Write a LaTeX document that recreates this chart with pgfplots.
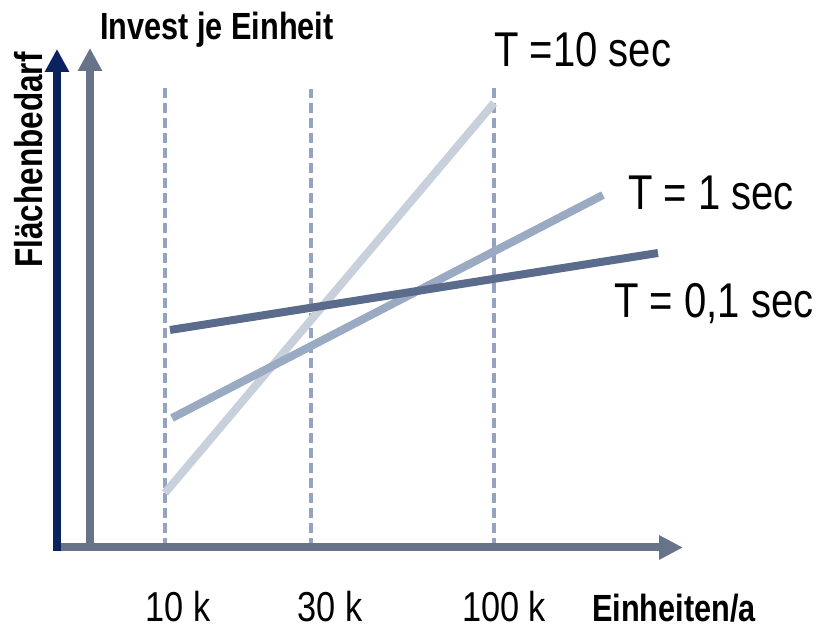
\documentclass[border=0pt]{standalone}
\usepackage{fontspec}
\setmainfont{Liberation Sans}[FakeStretch=0.82]
\newfontfamily\bcond{Liberation Sans Bold}[FakeStretch=0.81]
\usepackage{pgfplots}
\pgfplotsset{compat=1.18}
\usetikzlibrary{arrows.meta}
\definecolor{navyc}{HTML}{0A2260}
\definecolor{axisc}{HTML}{667388}
\definecolor{dashc}{HTML}{94A4C0}
\definecolor{tten}{HTML}{C8D0DC}
\definecolor{tone}{HTML}{9AAAC2}
\definecolor{tpt}{HTML}{5A6B8C}
\begin{document}
\begin{tikzpicture}
\begin{axis}[scale only axis, width=820bp, height=630bp,
  xmin=0, xmax=820, ymin=0, ymax=630, hide axis, clip=false]
\path (axis cs:0,0) rectangle (axis cs:820,630);
% dashed guides
\addplot[dashc, line width=3.5bp, dash pattern=on 10bp off 5bp] coordinates {(165,82) (165,542)};
\addplot[dashc, line width=3.5bp, dash pattern=on 10bp off 5bp] coordinates {(311,82) (311,541)};
\addplot[dashc, line width=3.5bp, dash pattern=on 10bp off 5bp] coordinates {(494,82) (494,542)};
% axes
\draw[axisc, line width=8bp, -{Triangle[width=23bp,length=24bp]}] (axis cs:53,82.5) -- (axis cs:683,82.5);
\draw[navyc, line width=8bp, -{Triangle[width=23bp,length=23bp]}] (axis cs:57,79) -- (axis cs:57,581);
\draw[axisc, line width=8bp, -{Triangle[width=23bp,length=23bp]}] (axis cs:90,79) -- (axis cs:90,582);
% data lines
\addplot[tten, line width=8bp] coordinates {(165,137) (494,527)};
\addplot[tone, line width=8bp] coordinates {(172,212) (603,435)};
\addplot[tpt, line width=8bp] coordinates {(170,300) (658,377)};
% labels
\node[anchor=base west, inner sep=0pt, font=\bcond\fontsize{38}{42}\selectfont] at (axis cs:100,590) {Invest je Einheit};
\node[anchor=base, inner sep=0pt, rotate=90, font=\bcond\fontsize{39}{44}\selectfont] at (axis cs:42,470) {Flächenbedarf};
\node[anchor=base west, inner sep=0pt, font=\fontsize{49}{55}\selectfont] at (axis cs:494,563) {T =10 sec};
\node[anchor=base west, inner sep=0pt, font=\fontsize{49}{55}\selectfont] at (axis cs:628,420) {T = 1 sec};
\node[anchor=base west, inner sep=0pt, font=\fontsize{49}{55}\selectfont] at (axis cs:614,312) {T = 0,1 sec};
\node[anchor=base, inner sep=0pt, font=\fontsize{42}{48}\selectfont] at (axis cs:178,8) {10 k};
\node[anchor=base, inner sep=0pt, font=\fontsize{42}{48}\selectfont] at (axis cs:330,8) {30 k};
\node[anchor=base, inner sep=0pt, font=\fontsize{42}{48}\selectfont] at (axis cs:504,8) {100 k};
\node[anchor=base west, inner sep=0pt, font=\bcond\fontsize{38}{42}\selectfont] at (axis cs:592,8) {Einheiten/a};
\end{axis}
\end{tikzpicture}
\end{document}
